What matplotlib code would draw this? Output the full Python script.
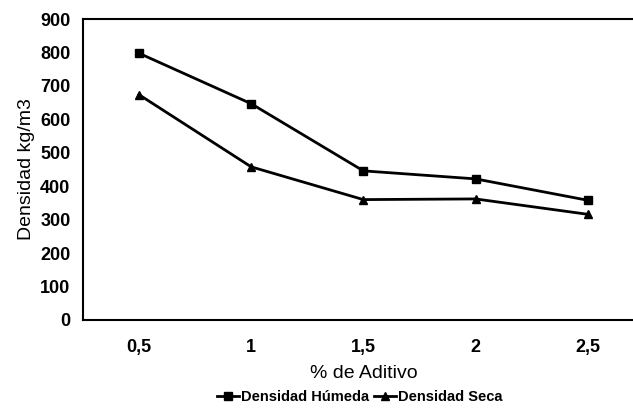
import matplotlib.pyplot as plt

plt.rcParams['font.family'] = ['Liberation Sans', 'DejaVu Sans']

# Datos
aditivo = ['0,5', '1', '1,5', '2', '2,5']
densidad_humeda = [798, 647, 446, 422, 358]
densidad_seca = [674, 458, 360, 362, 316]

fig = plt.figure(figsize=(6.33, 4.08), dpi=100)
ax = fig.add_axes([0.131, 0.216, 0.886, 0.737])

x = range(len(aditivo))
ax.plot(x, densidad_humeda, color='black', lw=2, marker='s', ms=6, label='Densidad Húmeda')
ax.plot(x, densidad_seca, color='black', lw=2, marker='^', ms=6, label='Densidad Seca')

ax.set_xlim(-0.5, len(aditivo) - 0.5)
ax.set_ylim(0, 900)
ax.set_yticks(range(0, 901, 100))
ax.set_xticks(list(x))
ax.set_xticklabels(aditivo)
ax.tick_params(axis='both', length=0, labelsize=13)
ax.tick_params(axis='y', pad=9)
ax.tick_params(axis='x', pad=14)
for lbl in ax.get_yticklabels() + ax.get_xticklabels():
    lbl.set_fontweight('bold')

for s in ['left', 'bottom', 'top']:
    ax.spines[s].set_linewidth(1.5)
ax.spines['right'].set_visible(False)

ax.set_ylabel('Densidad kg/m3', fontsize=14, labelpad=4)
ax.set_xlabel('% de Aditivo', fontsize=14, labelpad=6)

ax.legend(loc='upper center', bbox_to_anchor=(0.494, -0.228), ncol=2, frameon=False,
          handlelength=1.5, handletextpad=0.15, columnspacing=0.3,
          borderaxespad=0, borderpad=0.1, prop={'weight': 'bold', 'size': 10.5})

fig.savefig('out.png', dpi=100)
